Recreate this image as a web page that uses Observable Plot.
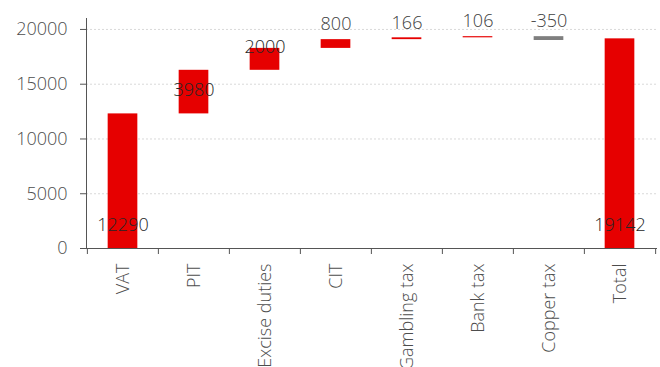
<!DOCTYPE html>
<html>
<head>
<meta charset="utf-8">
<script src="https://cdn.jsdelivr.net/npm/d3@7"></script>
<script src="https://cdn.jsdelivr.net/npm/@observablehq/plot@0.6"></script>
<style>
  body { margin: 0; background: #fff; }
  #chart svg { display: block; }
</style>
</head>
<body>
<div id="chart"></div>
<script>
// Revenue contributions by tax type, drawn as a waterfall
const categories = ["VAT", "PIT", "Excise duties", "CIT", "Gambling tax", "Bank tax", "Copper tax", "Total"];
const values = [12290, 3980, 2000, 800, 166, 106, -350, 19142];
const yTicks = [0, 5000, 10000, 15000, 20000];

// Running totals: each step floats on the previous one, the total starts from zero
let running = 0;
const rows = categories.map((category, i) => {
  const value = values[i];
  const isTotal = category === "Total";
  const y1 = isTotal ? 0 : running;
  const y2 = isTotal ? value : running + value;
  if (!isTotal) running = y2;
  const size = Math.abs(value);
  const place = y1 === 0 ? "base" : size >= 3000 ? "middle" : size >= 1000 ? "end" : "above";
  return {category, value, y1, y2, top: Math.max(y1, y2), mid: (y1 + y2) / 2, place};
});

const W = 660, H = 367;
const marginLeft = 86, marginRight = 4, marginTop = 18, marginBottom = 119;
const step = (W - marginLeft - marginRight) / categories.length;
const barInset = step * 0.29;
const axisColor = "#555";
const red = "#e60000";
const grey = "#7f7f7f";
const labelColor = "#262626";

const chart = Plot.plot({
  width: W,
  height: H,
  marginLeft, marginRight, marginTop, marginBottom,
  style: {fontFamily: "'Open Sans', sans-serif", fontSize: "18px", fontWeight: 300, background: "#fff", color: "#555"},
  x: {domain: categories, padding: 0, label: null},
  y: {domain: [0, 21000], label: null},
  marks: [
    // dotted gridlines
    Plot.ruleY(yTicks.filter(d => d > 0), {stroke: "#d9d9d9", strokeDasharray: "2,2", strokeWidth: 1}),
    // waterfall steps
    Plot.barY(rows, {
      x: "category", y1: "y1", y2: "y2",
      fill: d => d.value < 0 ? grey : red,
      insetLeft: barInset, insetRight: barInset
    }),
    // axis lines
    Plot.frame({anchor: "left", stroke: axisColor}),
    Plot.frame({anchor: "bottom", stroke: axisColor}),
    // category boundary ticks under the x axis
    Plot.ruleX(categories, {x: d => d, y1: 0, y2: 0, dx: -step / 2, insetBottom: -6, stroke: axisColor}),
    Plot.ruleX(categories.slice(-1), {x: d => d, y1: 0, y2: 0, dx: step / 2, insetBottom: -6, stroke: axisColor}),
    Plot.axisY({ticks: yTicks, tickSize: 6, tickPadding: 13, tickFormat: d => String(d), label: null, stroke: axisColor, fill: "#4d4d4d"}),
    Plot.axisX({tickSize: 0, tickPadding: 15, tickRotate: -90, label: null, fill: "#4d4d4d"}),
    // value labels
    Plot.text(rows, {filter: d => d.place === "base", x: "category", y: 0, dy: -23, text: d => String(d.value), fill: labelColor, fontSize: 18}),
    Plot.text(rows, {filter: d => d.place === "middle", x: "category", y: "mid", dy: -2, text: d => String(d.value), fill: labelColor, fontSize: 18}),
    Plot.text(rows, {filter: d => d.place === "end", x: "category", y: "top", dy: -1, text: d => String(d.value), fill: labelColor, fontSize: 18}),
    Plot.text(rows, {filter: d => d.place === "above", x: "category", y: "top", dy: -15, text: d => String(d.value), fill: "#404040", fontSize: 18})
  ]
});

document.getElementById("chart").appendChild(chart);
</script>
</body>
</html>
